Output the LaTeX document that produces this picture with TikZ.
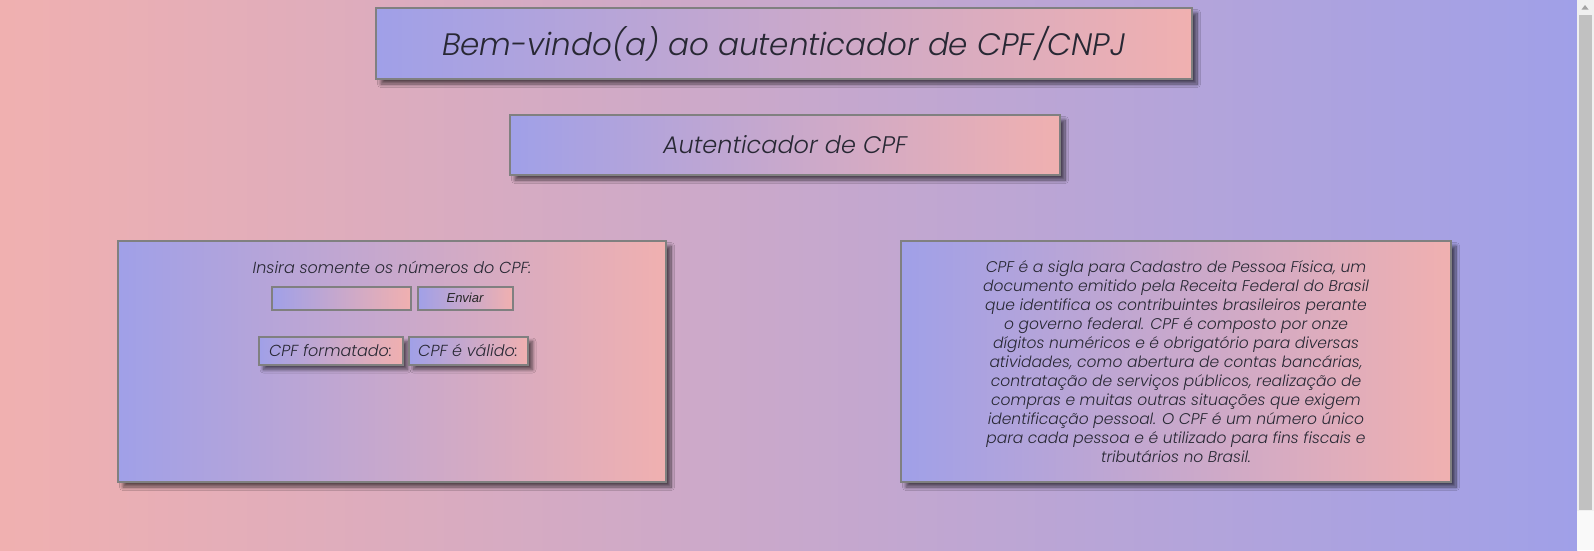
\documentclass[tikz,border=0pt]{standalone}
\usepackage{fontspec}
\newfontfamily\mfont{Poppins Light Italic}
\newfontfamily\afont{Liberation Sans}
\usetikzlibrary{shadows.blur}
\definecolor{pk}{RGB}{240,176,176}
\definecolor{bl}{RGB}{160,160,232}
\definecolor{bd}{RGB}{128,128,128}
\definecolor{tx}{RGB}{40,40,52}
\definecolor{sbg}{RGB}{240,240,240}
\definecolor{sth}{RGB}{193,193,193}
\definecolor{sar}{RGB}{163,163,163}
\begin{document}
\begin{tikzpicture}[x=1pt,y=-1pt,
  panel/.style={draw=bd, line width=2pt, left color=bl, right color=pk, inner sep=0pt, outer sep=0pt, text=tx, align=center},
  shad/.style={blur shadow={shadow xshift=5pt, shadow yshift=-5pt, shadow blur radius=3.5pt, shadow opacity=60, shadow blur steps=10}},
  lbl/.style={text=tx, inner sep=0pt, align=center},
]
\useasboundingbox (0,0) rectangle (1594,550);
\shade[left color=pk,right color=bl] (0,0) rectangle (1577,550);
% scrollbar
\fill[sbg] (1577,0) rectangle (1594,550);
\fill[white!60!sbg] (1577,511) rectangle (1594,550);
\fill[sth] (1578.5,15) rectangle (1591.5,510);
\fill[sar] (1585,5) -- (1581.5,9.5) -- (1588.5,9.5) -- cycle;
% title
\node[panel, shad, minimum width=816pt, minimum height=71pt, font=\mfont\fontsize{31}{36}\selectfont] (title) at (784,43.5) {Bem-vindo(a) ao autenticador de CPF/CNPJ};
\node[panel, shad, minimum width=550pt, minimum height=60pt, font=\mfont\fontsize{24}{28}\selectfont] (sub) at (785,145) {Autenticador de CPF};
% left panel
\node[panel, shad, minimum width=548pt, minimum height=241pt] (left) at (392,361.5) {};
\node[lbl, font=\mfont\fontsize{16}{19}\selectfont] (ask) at (392,267) {Insira somente os números do CPF:};
\node[panel, minimum width=139pt, minimum height=23pt] (input) at (341,298) {};
\node[panel, minimum width=95pt, minimum height=23pt, font=\afont\itshape\fontsize{13}{15}\selectfont, text=black!85] (send) at (465,298) {Enviar};
\node[panel, shad, minimum width=144pt, minimum height=28pt, font=\mfont\fontsize{16}{19}\selectfont] (fmt) at (330.5,350.5) {CPF formatado:};
\node[panel, shad, minimum width=119pt, minimum height=28pt, font=\mfont\fontsize{16}{19}\selectfont] (valid) at (468,350.5) {CPF é válido:};
% right panel
\node[panel, shad, minimum width=550pt, minimum height=241pt] (right) at (1176,361.5) {};
\node[lbl, font=\mfont\fontsize{15.5}{19}\selectfont] (info) at (1176,361.5) {CPF é a sigla para Cadastro de Pessoa Física, um\\
documento emitido pela Receita Federal do Brasil\\
que identifica os contribuintes brasileiros perante\\
o governo federal. CPF é composto por onze\\
dígitos numéricos e é obrigatório para diversas\\
atividades, como abertura de contas bancárias,\\
contratação de serviços públicos, realização de\\
compras e muitas outras situações que exigem\\
identificação pessoal. O CPF é um número único\\
para cada pessoa e é utilizado para fins fiscais e\\
tributários no Brasil.};
\end{tikzpicture}
\end{document}
